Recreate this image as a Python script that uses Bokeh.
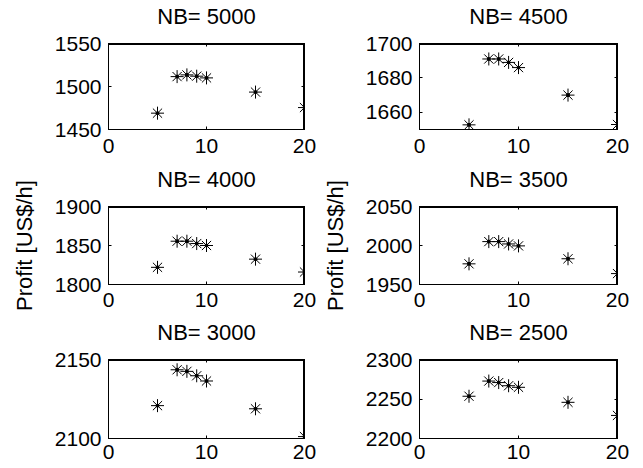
from bokeh.plotting import figure
from bokeh.models import LinearAxis, FixedTicker, Range1d, CustomLabelingPolicy
from bokeh.layouts import column, row
from bokeh.embed import file_html
from bokeh.resources import INLINE

# data
bits = [5, 7, 8, 9, 10, 15, 20]
nb_titles = ["NB= 5000", "NB= 4500", "NB= 4000", "NB= 3500", "NB= 3000", "NB= 2500"]
profit_5000 = [1469, 1511.5, 1513.5, 1512, 1510, 1493.5, 1475.5]
profit_4500 = [1652.7, 1691, 1691, 1689, 1686, 1670, 1652.9]
profit_4000 = [1822, 1855.5, 1855.5, 1852.5, 1850, 1832.5, 1816]
profit_3500 = [1976.5, 2005, 2005, 2002, 1999.5, 1983, 1964]
profit_3000 = [2120.8, 2143.5, 2142.5, 2139.7, 2136.4, 2118.8, 2101.2]
profit_2500 = [2253.5, 2272.7, 2270.8, 2266.8, 2264.8, 2245.8, 2229.2]
series = [profit_5000, profit_4500, profit_4000, profit_3500, profit_3000, profit_2500]
y_ranges = [(1450, 1550), (1650, 1700), (1800, 1900), (1950, 2050), (2100, 2150), (2200, 2300)]
y_ticks = [[1450, 1500, 1550], [1660, 1680, 1700], [1800, 1850, 1900],
           [1950, 2000, 2050], [2100, 2150], [2200, 2250, 2300]]
x_ticks = [0, 10, 20]
y_label = "Profit [US$/h]"

FONT = "Liberation Sans"
TICK_FS = "21px"
TITLE_FS = "22px"

row_heights = [163, 153, 152]
row_top = [43, 37, 37]
row_bottom = [34, 32, 30]
x_standoff = [9, 8, 6]
title_standoff = [11, 11, 11]
col_widths = [319, 321]
col_left = [108, 100]
col_right = [15, 23]

hide_labels = "const all = [...indices]; for (const i of all) { indices.unset(i) } return indices"


def make(i):
    r, c = divmod(i, 2)
    x0, x1 = x_ticks[0], x_ticks[-1]
    y0, y1 = y_ranges[i]
    p = figure(width=col_widths[c], height=row_heights[r], output_backend="svg",
               toolbar_location=None, title=None, x_range=Range1d(x0, x1),
               y_range=Range1d(y0, y1),
               min_border_left=col_left[c], min_border_right=col_right[c],
               min_border_top=row_top[r], min_border_bottom=row_bottom[r])
    p.xgrid.visible = False
    p.ygrid.visible = False
    p.outline_line_color = "black"
    p.outline_line_width = 1
    p.background_fill_color = None
    p.border_fill_color = None

    for ax in p.xaxis:
        ax.ticker = FixedTicker(ticks=x_ticks)
    for ax in p.yaxis:
        ax.ticker = FixedTicker(ticks=y_ticks[i])
    for ax in list(p.xaxis) + list(p.yaxis):
        ax.major_tick_in = 3
        ax.major_tick_out = 0
        ax.minor_tick_line_color = None
        ax.major_label_text_font = FONT
        ax.major_label_text_font_size = TICK_FS
        ax.major_label_text_color = "black"
        ax.axis_line_color = "black"
        ax.major_tick_line_color = "black"
    p.xaxis.major_label_standoff = x_standoff[r]
    p.yaxis.major_label_standoff = 7
    if r == 1:
        p.yaxis.axis_label = y_label
        p.yaxis.axis_label_text_font = FONT
        p.yaxis.axis_label_text_font_size = TITLE_FS
        p.yaxis.axis_label_text_font_style = "normal"
        p.yaxis.axis_label_text_color = "black"
        p.yaxis.axis_label_standoff = 15

    # top axis: inner ticks and the subplot title
    top = LinearAxis(ticker=FixedTicker(ticks=x_ticks), major_tick_in=3, major_tick_out=0,
                     minor_tick_line_color=None, major_label_text_font_size="1px",
                     major_label_standoff=0, axis_line_color="black",
                     major_label_policy=CustomLabelingPolicy(code=hide_labels),
                     axis_label=nb_titles[i], axis_label_text_font=FONT,
                     axis_label_text_font_size=TITLE_FS, axis_label_text_font_style="normal",
                     axis_label_text_color="black", axis_label_standoff=title_standoff[r])
    right = LinearAxis(ticker=FixedTicker(ticks=y_ticks[i]), major_tick_in=3, major_tick_out=0,
                       minor_tick_line_color=None, major_label_text_font_size="1px",
                       major_label_standoff=0, axis_line_color="black",
                       major_label_policy=CustomLabelingPolicy(code=hide_labels))
    p.add_layout(top, "above")
    p.add_layout(right, "right")

    # top and right edges of the axes box, on the range limits
    p.line(x=[x0, x1, x1], y=[y1, y1, y0], line_color="black", line_width=3)

    p.scatter(bits, series[i], marker="asterisk", size=13, line_color="black", line_width=1)
    p.scatter(bits, series[i], marker="circle", size=3, fill_color="black", line_color="black")
    return p


figs = [make(i) for i in range(6)]
layout = column(row(figs[0], figs[1]), row(figs[2], figs[3]), row(figs[4], figs[5]))
open("out.html", "w").write(file_html(layout, INLINE))
